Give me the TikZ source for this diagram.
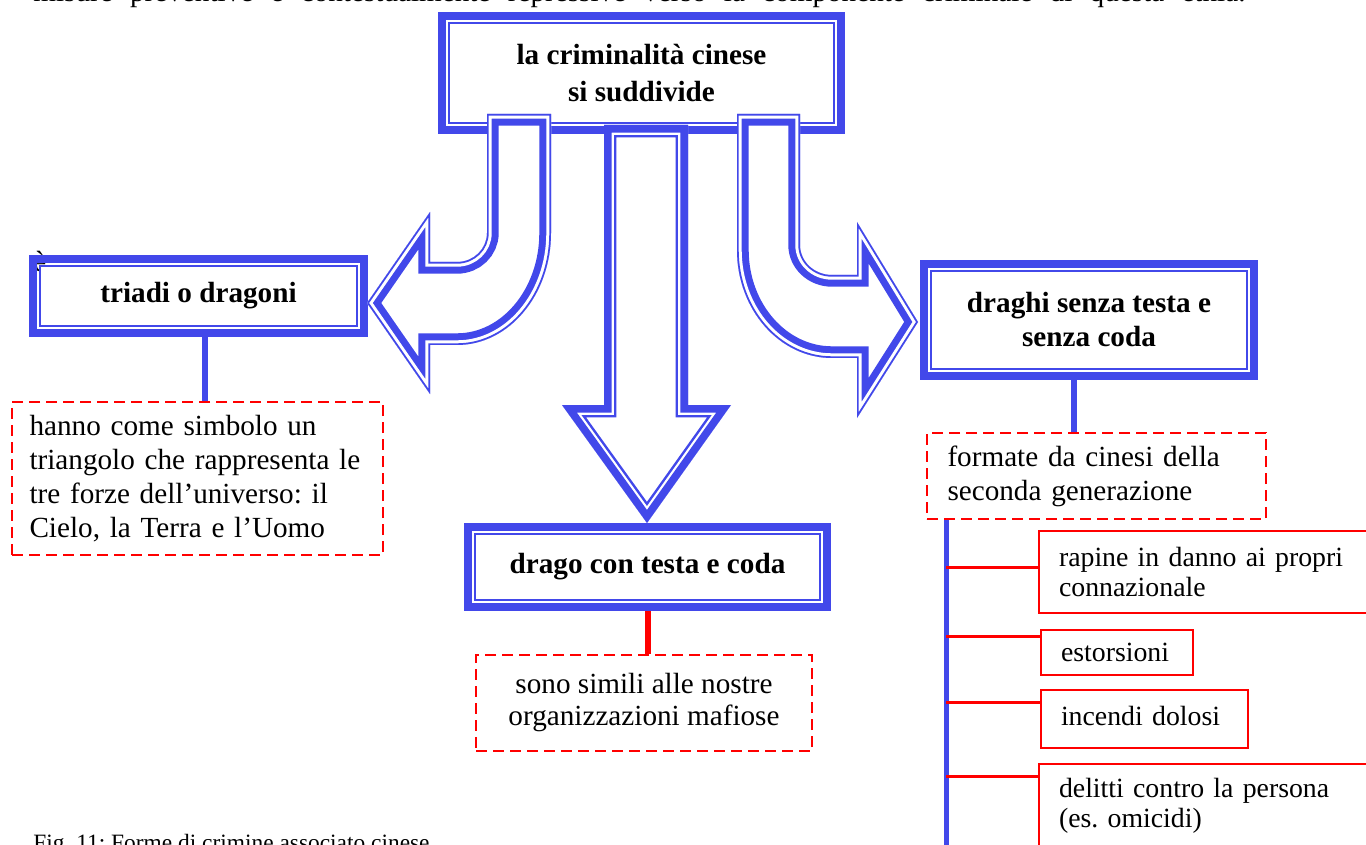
\documentclass[tikz,border=0pt]{standalone}
\usepackage{fontspec}
\setmainfont{Liberation Serif}
\usepackage{xcolor}
\usetikzlibrary{calc}
\definecolor{dblue}{RGB}{66,72,234}
\tikzstyle{dragonbox} = [rectangle, draw=dblue, line width=1.2pt, fill=white, inner sep=2pt, outer sep=5.55pt, align=center, font=\fontsize{14.6pt}{17pt}\selectfont\bfseries]
\tikzstyle{notebox}   = [rectangle, draw=red, line width=1pt, dash pattern=on 5.5pt off 3pt, inner sep=0pt, font=\fontsize{14.6pt}{17pt}\selectfont]
\tikzstyle{crimebox}  = [rectangle, draw=red, line width=1pt, anchor=north west, inner xsep=10pt, align=left, font=\fontsize{13.9pt}{15pt}\selectfont]
\tikzstyle{bluelink}  = [draw=dblue, line width=3pt]
\tikzstyle{redlink}   = [draw=red, line width=3pt]
\tikzstyle{branch}    = [draw=red, line width=1.5pt]
\tikzstyle{plain}     = [anchor=base west, inner sep=0pt]

% block arrow, thick band outside and thin line inside
\newcommand{\thickthin}[1]{%
  \begin{scope}
    \clip #1;
    \fill[white] #1;
    \draw[dblue, line width=12.3pt] #1;
    \draw[white, line width=9.8pt] #1;
    \draw[dblue, line width=7.6pt] #1;
  \end{scope}}
% block arrow, thin line outside and thick band inside
\newcommand{\thinthick}[1]{%
  \begin{scope}
    \clip #1;
    \fill[white] #1;
    \draw[dblue, line width=11.7pt] #1;
    \draw[white, line width=4.7pt] #1;
    \draw[dblue, line width=1.7pt] #1;
  \end{scope}}

\begin{document}
\frenchspacing
\begin{tikzpicture}[x=0.5pt, y=-0.5pt]
\useasboundingbox (0,0) rectangle (1366,845);
\clip (0,0) rectangle (1366,845);

% running text above and below
\node (lead) [plain, font=\fontsize{14.6pt}{17pt}\selectfont] at (33,2) {\makebox[606pt][s]{misure preventive e contestualmente repressive verso la componente criminale di questa etnia.}};
\node (caption) [plain, font=\fontsize{11.7pt}{14pt}\selectfont] at (33,850) {Fig. 11: Forme di crimine associato cinese};
\node (stray) [plain, font=\fontsize{14.6pt}{17pt}\selectfont] at (33,272) {è};

% the four dragon boxes
\node (top) [dragonbox, minimum width=192.4pt, minimum height=49.9pt, font=\fontsize{14.6pt}{18.5pt}\selectfont\bfseries] at (641.5,73) {la criminalità cinese\\si suddivide};
\node (triadi) [dragonbox, minimum width=158.4pt, minimum height=29.9pt] at (198.5,296) {triadi o dragoni};
\node (draghi) [dragonbox, minimum width=157.9pt, minimum height=48.9pt] at (1089,320) {draghi senza testa e\\senza coda};
\node (drago) [dragonbox, minimum width=172.4pt, minimum height=32.9pt] at (647.5,567) {drago con testa e coda};
\foreach \n in {top,triadi,draghi,drago}
  \draw[dblue, line width=3.8pt] ($(\n.north west)+(1.9pt,-1.9pt)$) rectangle ($(\n.south east)+(-1.9pt,1.9pt)$);

% block arrows out of the top box
\thinthick{(487,114) -- (487,233) .. controls (487,249) and (473.6,262) .. (457,262) -- (430,262) -- (430,212) -- (367,303) -- (430,394) -- (430,345) -- (457,345) .. controls (508.9,345) and (551,294.9) .. (551,233) -- (551,114) -- cycle}
\thickthin{(604,125) -- (604,405) -- (562,405) -- (647,523) -- (731,405) -- (688,405) -- (688,125) -- cycle}
\thinthick{(737,114) -- (737,250) .. controls (737,309.6) and (779.5,358) .. (832,358) -- (857,358) -- (857,418) -- (918,322) -- (857,222) -- (857,275) -- (832,275) .. controls (814.3,275) and (800,261.6) .. (800,245) -- (800,114) -- cycle}

% notes
\node (tnote) [notebox, minimum width=185.5pt, minimum height=76.5pt, text width=168pt, align=left] at (197.5,478.5) {\makebox[168pt][s]{hanno come simbolo un}\\\makebox[168pt][s]{triangolo che rappresenta le}\\\makebox[168pt][s]{tre forze dell’universo: il}\\Cielo, la Terra e l’Uomo};
\node (mnote) [notebox, minimum width=168pt, minimum height=48pt, align=center, font=\fontsize{14.6pt}{16pt}\selectfont] at (644,703) {sono simili alle nostre\\organizzazioni mafiose};
\node (fnote) [notebox, minimum width=169.5pt, minimum height=43pt, text width=149pt, align=left] at (1096.5,476) {\makebox[149pt][s]{formate da cinesi della}\\seconda generazione};

% crimes of the draghi
\node (rapine) [crimebox, minimum height=41pt, text width=170pt] at (1038,530) {rapine in danno ai propri\\connazionale};
\node (estorsioni) [crimebox, minimum height=22.5pt, text width=56pt] at (1040,629) {estorsioni};
\node (incendi) [crimebox, minimum height=29pt, text width=83.5pt, text depth=3pt] at (1040,689) {incendi dolosi};
\node (delitti) [crimebox, inner ysep=7pt, text depth=20pt, text width=170pt] at (1038,763) {delitti contro la persona\\(es. omicidi)};

% connectors
\draw[bluelink] ([xshift=3pt]triadi.south) -- ([xshift=3pt]triadi.south |- tnote.north);
\draw[redlink] (drago.south) -- (drago.south |- mnote.north);
\draw[bluelink] ([xshift=-7.5pt]draghi.south) -- ([xshift=-7.5pt]draghi.south |- fnote.north);
\coordinate (trunkend) at (946,850);
\draw[dblue, line width=2.5pt] (trunkend |- fnote.south) -- (trunkend);
\foreach \crime/\dy in {rapine/18.5, estorsioni/3.5, incendi/6.5, delitti/6.5}
  \draw[branch] ([yshift=-\dy pt]\crime.north west) coordinate (b) -- (b -| trunkend);
\end{tikzpicture}
\end{document}
